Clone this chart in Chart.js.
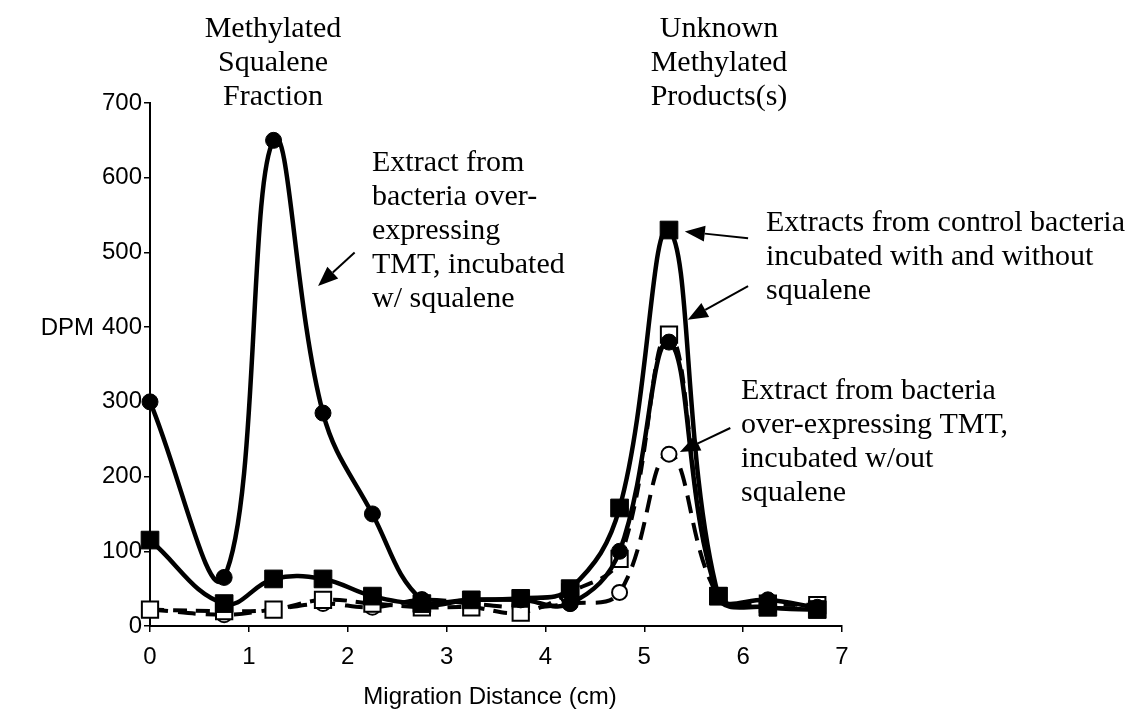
<!DOCTYPE html>
<html>
<head>
<meta charset="utf-8">
<title>DPM vs Migration Distance</title>
<script src="https://cdn.jsdelivr.net/npm/chart.js@4.4.1/dist/chart.umd.min.js"></script>
<style>
	html, body { margin: 0; padding: 0; background: #fff; }
	canvas { display: block; }
</style>
</head>
<body>
<canvas id="dpmChart" width="1134" height="722"></canvas>
<script>
//	Migration distance (cm) of each collected fraction
var distance = [0, 0.75, 1.25, 1.75, 2.25, 2.75, 3.25, 3.75, 4.25, 4.75, 5.25, 5.75, 6.25, 6.75];
//	Extract from bacteria over-expressing TMT, incubated w/ squalene (filled circles)
var tmtWithSqualene = [300, 65, 650, 285, 150, 35, 35, 35, 30, 100, 380, 40, 35, 25];
//	Control bacteria incubated with squalene (filled squares)
var controlWithSqualene = [115, 30, 63, 63, 40, 30, 35, 37, 50, 158, 530, 40, 25, 22];
//	Control bacteria incubated without squalene (open squares)
var controlNoSqualene = [22, 20, 22, 35, 30, 25, 25, 18, 45, 90, 390, 40, 30, 28];
//	Extract from bacteria over-expressing TMT, incubated w/out squalene (open circles)
var tmtNoSqualene = [22, 15, 22, 30, 25, 35, 30, 25, 30, 45, 230, 40, 25, 25];

//	Tick labels
var xTickValues = [0, 1, 2, 3, 4, 5, 6, 7];
var yTickValues = [0, 100, 200, 300, 400, 500, 600, 700];

//	Text blocks drawn over the chart
var peakTitles = [
	{ lines: ['Methylated', 'Squalene', 'Fraction'], x: 273, y: 37, align: 'center' },
	{ lines: ['Unknown', 'Methylated', 'Products(s)'], x: 719, y: 37, align: 'center' }
];
var seriesNotes = [
	{ lines: ['Extract from', 'bacteria over-', 'expressing', 'TMT, incubated', 'w/ squalene'], x: 372, y: 171, align: 'left' },
	{ lines: ['Extracts from control bacteria', 'incubated with and without', 'squalene'], x: 766, y: 231, align: 'left' },
	{ lines: ['Extract from bacteria', 'over-expressing TMT,', 'incubated w/out', 'squalene'], x: 741, y: 399, align: 'left' }
];
//	Arrows from the notes to the curves, in axis units
var noteArrows = [
	{ from: [2.07, 500], to: [1.70, 455] },
	{ from: [6.05, 519], to: [5.41, 528] },
	{ from: [6.05, 455], to: [5.44, 410] },
	{ from: [5.87, 265], to: [5.36, 233] }
];

/**
 *	Build {x, y} points for one series
 */
function toPoints(values) {
	var pts = [];
	for (let i = 0; i < distance.length; i++) {
		pts.push({ x: distance[i], y: values[i] });
	}
	return pts;
}

/**
 *	Draws a line with a filled triangular head at its end
 */
function drawArrow(ctx, x1, y1, x2, y2) {
	var ang = Math.atan2(y2 - y1, x2 - x1);
	var headLen = 20;
	var headHalf = 8;
	var bx = x2 - headLen * Math.cos(ang);
	var by = y2 - headLen * Math.sin(ang);
	ctx.beginPath();
	ctx.moveTo(x1, y1);
	ctx.lineTo(bx, by);
	ctx.lineWidth = 2;
	ctx.strokeStyle = '#000';
	ctx.stroke();
	ctx.beginPath();
	ctx.moveTo(x2, y2);
	ctx.lineTo(bx + headHalf * Math.sin(ang), by - headHalf * Math.cos(ang));
	ctx.lineTo(bx - headHalf * Math.sin(ang), by + headHalf * Math.cos(ang));
	ctx.closePath();
	ctx.fillStyle = '#000';
	ctx.fill();
}

/**
 *	Plugin for the notes, arrows and axis titles
 */
var notesPlugin = {
	id: 'notes',
	afterDraw: function (chart) {
		var ctx = chart.ctx;
		var xs = chart.scales.x;
		var ys = chart.scales.y;
		ctx.save();
		ctx.fillStyle = '#000';
		ctx.textBaseline = 'alphabetic';
		ctx.font = '30px "Liberation Serif", "Times New Roman", serif';
		var blocks = peakTitles.concat(seriesNotes);
		for (let i = 0; i < blocks.length; i++) {
			ctx.textAlign = blocks[i].align;
			for (let j = 0; j < blocks[i].lines.length; j++) {
				ctx.fillText(blocks[i].lines[j], blocks[i].x, blocks[i].y + j * 34);
			}
		}
		for (let i = 0; i < noteArrows.length; i++) {
			var a = noteArrows[i];
			drawArrow(ctx, xs.getPixelForValue(a.from[0]), ys.getPixelForValue(a.from[1]),
				xs.getPixelForValue(a.to[0]), ys.getPixelForValue(a.to[1]));
		}
		//	Axis titles, DPM sits on the 400 row
		ctx.fillStyle = '#000';
		ctx.font = '24px "Liberation Sans", Arial, sans-serif';
		ctx.textBaseline = 'middle';
		ctx.textAlign = 'right';
		ctx.fillText('DPM', 94, ys.getPixelForValue(400) + 1);
		ctx.textAlign = 'center';
		ctx.fillText('Migration Distance (cm)', 490, 697);
		ctx.restore();
	}
};

var tickFont = { family: '"Liberation Sans", Arial, sans-serif', size: 24 };

var ctx = document.getElementById('dpmChart');
var newChart = new Chart(ctx, {
	type: 'line',
	data: {
		datasets: [{
				//	Filled circles, solid
				data: toPoints(tmtWithSqualene),
				borderColor: '#000',
				borderWidth: 4.5,
				backgroundColor: '#000',
				pointStyle: 'circle',
				pointRadius: 8,
				pointBorderWidth: 1,
				tension: 0.4,
				fill: false
			},
			{
				//	Filled squares, solid
				data: toPoints(controlWithSqualene),
				borderColor: '#000',
				borderWidth: 4.5,
				backgroundColor: '#000',
				pointStyle: 'rect',
				pointRadius: 12.5,
				pointBorderWidth: 1,
				tension: 0.4,
				fill: false
			},
			{
				//	Open squares, dashed
				data: toPoints(controlNoSqualene),
				borderColor: '#000',
				borderWidth: 4,
				borderDash: [14, 9],
				pointBackgroundColor: '#fff',
				pointBorderColor: '#000',
				pointStyle: 'rect',
				pointRadius: 11.5,
				pointBorderWidth: 2,
				tension: 0.4,
				fill: false
			},
			{
				//	Open circles, dashed
				data: toPoints(tmtNoSqualene),
				borderColor: '#000',
				borderWidth: 4,
				borderDash: [18, 10],
				pointBackgroundColor: '#fff',
				pointBorderColor: '#000',
				pointStyle: 'circle',
				pointRadius: 7.5,
				pointBorderWidth: 2,
				tension: 0.4,
				fill: false
			}
		]
	},
	options: {
		responsive: false,
		animation: false,
		clip: false,
		layout: {
			padding: { left: 0, top: 103, right: 292, bottom: 0 }
		},
		plugins: {
			legend: { display: false },
			tooltip: { enabled: false }
		},
		scales: {
			x: {
				type: 'linear',
				min: 0,
				max: 7,
				afterBuildTicks: function (scale) {
					scale.ticks = xTickValues.map(function (v) { return { value: v }; });
				},
				afterFit: function (scale) {
					scale.height = 96;
				},
				grid: { drawOnChartArea: false, color: '#000', tickLength: 6, lineWidth: 1.5 },
				border: { color: '#000', width: 2 },
				ticks: { color: '#000', font: tickFont, padding: 11, maxRotation: 0 }
			},
			y: {
				type: 'linear',
				min: 0,
				max: 700,
				afterBuildTicks: function (scale) {
					scale.ticks = yTickValues.map(function (v) { return { value: v }; });
				},
				afterFit: function (scale) {
					scale.width = 150;
				},
				grid: { drawOnChartArea: false, color: '#000', tickLength: 6, lineWidth: 1.5 },
				border: { color: '#000', width: 2 },
				ticks: { color: '#000', font: tickFont, padding: 2 }
			}
		}
	},
	plugins: [notesPlugin]
});
</script>
</body>
</html>
